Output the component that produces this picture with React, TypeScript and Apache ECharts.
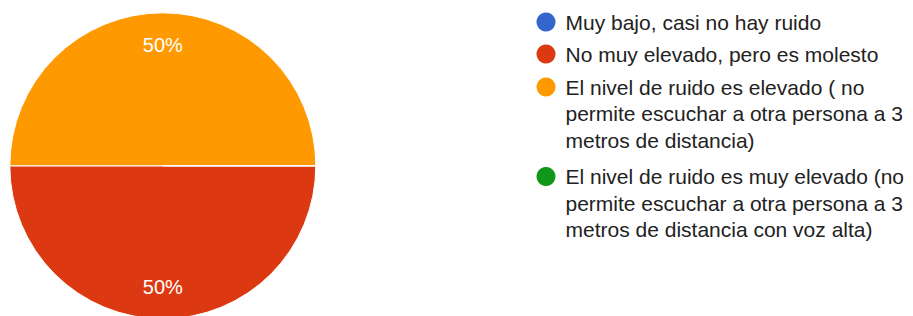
import React, { useEffect, useRef } from 'react';
import * as echarts from 'echarts';

const categories = [
  'Muy bajo, casi no hay ruido',
  'No muy elevado, pero es molesto',
  'El nivel de ruido es elevado ( no permite escuchar a otra persona a 3 metros de distancia)',
  'El nivel de ruido es muy elevado (no permite escuchar a otra persona a 3 metros de distancia con voz alta)',
];
const legendLabels = [
  'Muy bajo, casi no hay ruido',
  'No muy elevado, pero es molesto',
  'El nivel de ruido es elevado ( no\npermite escuchar a otra persona a 3\nmetros de distancia)',
  'El nivel de ruido es muy elevado (no\npermite escuchar a otra persona a 3\nmetros de distancia con voz alta)',
];
const responses = [0, 1, 1, 0];
const colors = ['#3366cc', '#dc3912', '#ff9900', '#109618'];

const FONT = "Arial, 'Liberation Sans', sans-serif";
const LINE_H = 26.5;
const ICON_CENTERS = [22, 54, 87, 176.5];

export default function App() {
  const ref = useRef<HTMLDivElement>(null);
  useEffect(() => {
    if (!ref.current) return;
    const chart = echarts.init(ref.current, undefined, { renderer: 'svg' });
    const data = categories.map((name, i) => ({
      name,
      value: responses[i],
      itemStyle: { color: colors[i] },
    }));
    const legends = categories.map((name, i) => {
      const n = legendLabels[i].split('\n').length;
      // pad with blank lines above so the first text line sits level with the icon
      const shown = '\n'.repeat(n - 1) + legendLabels[i];
      return {
        orient: 'vertical',
        left: 536.5,
        top: ICON_CENTERS[i] - ((2 * n - 1) * LINE_H) / 2,
        padding: 0,
        icon: 'circle',
        itemWidth: 29,
        itemHeight: 19,
        selectedMode: false,
        data: [name],
        itemStyle: { borderWidth: 0 },
        formatter: () => shown,
        textStyle: {
          fontFamily: FONT,
          fontSize: 21,
          color: '#222222',
          lineHeight: LINE_H,
        },
      };
    });
    chart.setOption({
      animation: false,
      color: colors,
      legend: legends,
      series: [
        {
          type: 'pie',
          center: [162.8, 165.8],
          radius: [0, 153],
          startAngle: 0,
          clockwise: true,
          silent: true,
          data,
          itemStyle: { borderColor: '#ffffff', borderWidth: 1 },
          label: { show: false },
          labelLine: { show: false },
          emphasis: { disabled: true },
        },
        {
          type: 'pie',
          center: [162.8, 165.8],
          radius: [83, 153],
          startAngle: 0,
          clockwise: true,
          silent: true,
          data: data.map((d) => ({ name: d.name, value: d.value })),
          itemStyle: { color: 'rgba(0,0,0,0)', borderWidth: 0 },
          label: {
            show: true,
            position: 'inside',
            fontFamily: FONT,
            fontSize: 20,
            color: '#ffffff',
            formatter: (p: any) => (p.value > 0 ? `${Math.round(p.percent)}%` : ''),
          },
          labelLine: { show: false },
          emphasis: { disabled: true },
        },
      ],
    });
    return () => chart.dispose();
  }, []);
  return (
    <div
      ref={ref}
      style={{ position: 'fixed', left: 0, top: 0, width: 913, height: 316, background: '#ffffff' }}
    />
  );
}
